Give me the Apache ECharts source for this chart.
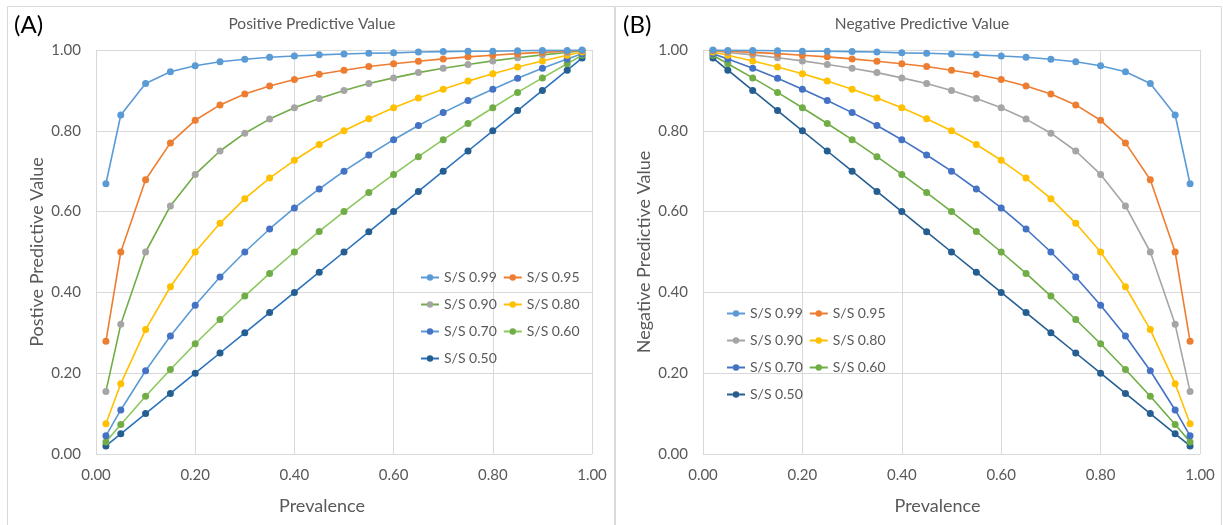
<!DOCTYPE html>
<html><head><meta charset="utf-8">
<script src="https://cdn.jsdelivr.net/npm/echarts@6/dist/echarts.min.js"></script>
<style>html,body{margin:0;padding:0;background:#fff}#c{width:1223px;height:525px}</style>
</head><body><div id="c"></div>
<script>
// Prevalence (x values), shared by both panels
const prevalence = [0.02,0.05,0.10,0.15,0.20,0.25,0.30,0.35,0.40,0.45,0.50,0.55,0.60,0.65,0.70,0.75,0.80,0.85,0.90,0.95,0.98];
const ssLabels = ['S/S 0.99','S/S 0.95','S/S 0.90','S/S 0.80','S/S 0.70','S/S 0.60','S/S 0.50'];
const xTicks = ['0.00','0.20','0.40','0.60','0.80','1.00'];
const yTicks = ['0.00','0.20','0.40','0.60','0.80','1.00'];

// Panel A: Positive predictive value
const ppv99 = [0.669,0.839,0.917,0.946,0.961,0.971,0.977,0.982,0.985,0.988,0.990,0.992,0.993,0.995,0.996,0.997,0.997,0.998,0.999,0.999,1.000];
const ppv95 = [0.279,0.500,0.679,0.770,0.826,0.864,0.891,0.911,0.927,0.940,0.950,0.959,0.966,0.972,0.978,0.983,0.987,0.991,0.994,0.997,0.999];
const ppv90 = [0.155,0.321,0.500,0.614,0.692,0.750,0.794,0.829,0.857,0.880,0.900,0.917,0.931,0.944,0.955,0.964,0.973,0.981,0.988,0.994,0.998];
const ppv80 = [0.075,0.174,0.308,0.414,0.500,0.571,0.632,0.683,0.727,0.766,0.800,0.830,0.857,0.881,0.903,0.923,0.941,0.958,0.973,0.987,0.995];
const ppv70 = [0.045,0.109,0.206,0.292,0.368,0.438,0.500,0.557,0.609,0.656,0.700,0.740,0.778,0.813,0.845,0.875,0.903,0.930,0.955,0.978,0.991];
const ppv60 = [0.030,0.073,0.143,0.209,0.273,0.333,0.391,0.447,0.500,0.551,0.600,0.647,0.692,0.736,0.778,0.818,0.857,0.895,0.931,0.966,0.987];
const ppv50 = [0.020,0.050,0.100,0.150,0.200,0.250,0.300,0.350,0.400,0.450,0.500,0.550,0.600,0.650,0.700,0.750,0.800,0.850,0.900,0.950,0.980];

// Panel B: Negative predictive value
const npv99 = [1.000,0.999,0.999,0.998,0.997,0.997,0.996,0.995,0.993,0.992,0.990,0.988,0.985,0.982,0.977,0.971,0.961,0.946,0.917,0.839,0.669];
const npv95 = [0.999,0.997,0.994,0.991,0.987,0.983,0.978,0.972,0.966,0.959,0.950,0.940,0.927,0.911,0.891,0.864,0.826,0.770,0.679,0.500,0.279];
const npv90 = [0.998,0.994,0.988,0.981,0.973,0.964,0.955,0.944,0.931,0.917,0.900,0.880,0.857,0.829,0.794,0.750,0.692,0.614,0.500,0.321,0.155];
const npv80 = [0.995,0.987,0.973,0.958,0.941,0.923,0.903,0.881,0.857,0.830,0.800,0.766,0.727,0.683,0.632,0.571,0.500,0.414,0.308,0.174,0.075];
const npv70 = [0.991,0.978,0.955,0.930,0.903,0.875,0.845,0.813,0.778,0.740,0.700,0.656,0.609,0.557,0.500,0.438,0.368,0.292,0.206,0.109,0.045];
const npv60 = [0.987,0.966,0.931,0.895,0.857,0.818,0.778,0.736,0.692,0.647,0.600,0.551,0.500,0.447,0.391,0.333,0.273,0.209,0.143,0.073,0.030];
const npv50 = [0.980,0.950,0.900,0.850,0.800,0.750,0.700,0.650,0.600,0.550,0.500,0.450,0.400,0.350,0.300,0.250,0.200,0.150,0.100,0.050,0.020];

const ppvSets = [ppv99,ppv95,ppv90,ppv80,ppv70,ppv60,ppv50];
const npvSets = [npv99,npv95,npv90,npv80,npv70,npv60,npv50];

const markerColors = ['#5B9BD5','#ED7D31','#A5A5A5','#FFC000','#4472C4','#70AD47','#255E91'];
const lineColorsA  = ['#5B9BD5','#ED7D31','#70AD47','#FFC000','#5B9BD5','#8CC85E','#2A72BC'];
const lineColorsB  = markerColors;

const FONT = 'Lato, "Open Sans", sans-serif';
const TXT = '#595959';
const GRIDC = '#D9D9D9';

function mkSeries(prefix, sets, lineColors, idx){
  return sets.map((vals,i)=>({
    name: prefix + ssLabels[i],
    type: 'line',
    xAxisIndex: idx, yAxisIndex: idx,
    data: prevalence.map((p,k)=>[p, vals[k]]),
    symbol: 'circle', symbolSize: 7,
    showSymbol: true,
    lineStyle: {color: lineColors[i], width: 1.6},
    itemStyle: {color: markerColors[i]},
    emphasis: {disabled: true},
    z: 10 - i
  }));
}

function xAxis(idx, shift){
  return {
    type:'value', gridIndex: idx, min:0, max:1, interval:0.2,
    name:'Prevalence', nameLocation:'middle', nameGap:43,
    nameTextStyle:{fontFamily:FONT, fontSize:18, color:TXT, padding:[0, shift, 0, 0]},
    axisLine:{show:false}, axisTick:{show:false},
    axisLabel:{fontFamily:FONT, fontSize:15, color:TXT, margin:14,
      formatter:(v)=>xTicks[Math.round(v/0.2)]},
    splitLine:{show:true, lineStyle:{color:GRIDC, width:1}}
  };
}
function yAxis(idx, name){
  return {
    type:'value', gridIndex: idx, min:0, max:1, interval:0.2,
    name:name, nameLocation:'middle', nameGap:50, nameRotate:90,
    nameTextStyle:{fontFamily:FONT, fontSize:18, color:TXT},
    axisLine:{show:false}, axisTick:{show:false},
    axisLabel:{fontFamily:FONT, fontSize:15, color:TXT, margin:15,
      formatter:(v)=>yTicks[Math.round(v/0.2)]},
    splitLine:{show:true, lineStyle:{color:GRIDC, width:1}}
  };
}
function legend(prefix, left, top){
  return {
    data: ssLabels.map(s=>prefix+s),
    left:left, top:top, width:170, orient:'horizontal',
    itemWidth:18, itemHeight:8, itemGap:6,
    formatter:(n)=>n.slice(prefix.length),
    textStyle:{fontFamily:FONT, fontSize:14, color:TXT, lineHeight:21},
    selectedMode:false
  };
}

const chart = echarts.init(document.getElementById('c'), null, {renderer:'canvas'});
chart.setOption({
  animation:false,
  backgroundColor:'#ffffff',
  grid:[
    {left:96, top:50, width:496, height:404},
    {left:703, top:50, width:497, height:404}
  ],
  xAxis:[xAxis(0,44), xAxis(1,28)],
  yAxis:[yAxis(0,'Postive Predictive Value'), yAxis(1,'Negative Predictive Value')],
  legend:[legend('A|',415,262), legend('B|',721,298)],
  series:[...mkSeries('A|',ppvSets,lineColorsA,0), ...mkSeries('B|',npvSets,lineColorsB,1)],
  graphic:[
    {type:'rect', shape:{x:7.5,y:6.5,width:607,height:540}, style:{fill:null, stroke:GRIDC, lineWidth:1}, silent:true, z:-1},
    {type:'rect', shape:{x:615.5,y:6.5,width:606,height:540}, style:{fill:null, stroke:GRIDC, lineWidth:1}, silent:true, z:-1},
    {type:'text', left:14, top:13, style:{text:'(A)', font:'24px '+FONT, fill:'#000'}},
    {type:'text', left:623, top:13, style:{text:'(B)', font:'24px '+FONT, fill:'#000'}},
    {type:'text', x:312, y:24, style:{text:'Positive Predictive Value', font:'15.5px '+FONT, fill:TXT, align:'center', verticalAlign:'middle'}},
    {type:'text', x:922, y:24, style:{text:'Negative Predictive Value', font:'15.5px '+FONT, fill:TXT, align:'center', verticalAlign:'middle'}}
  ]
});
</script>
</body></html>
